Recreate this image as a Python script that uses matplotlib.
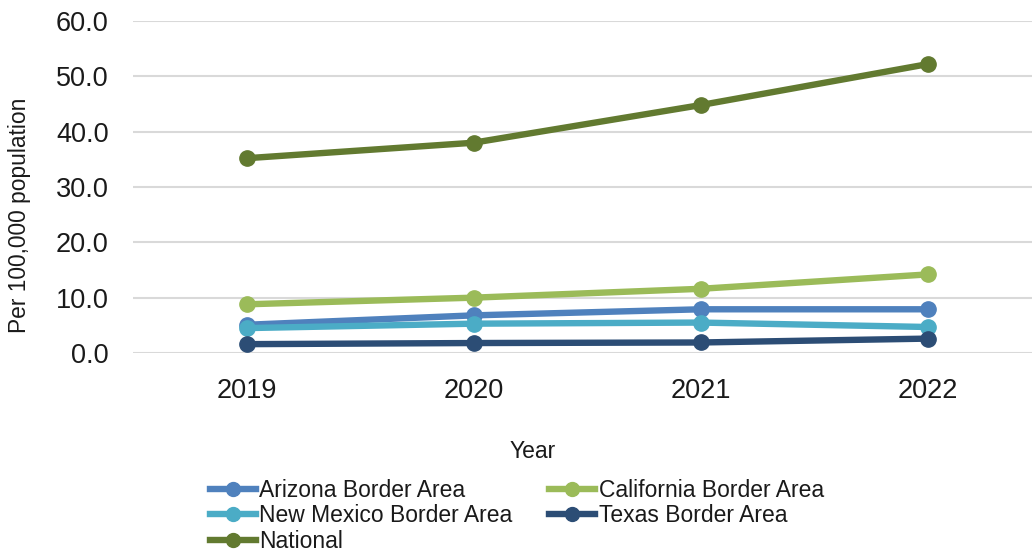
import matplotlib
matplotlib.use("Agg")
import matplotlib.pyplot as plt
from matplotlib.lines import Line2D

plt.rcParams['font.family'] = ['Liberation Sans', 'DejaVu Sans']

years = ["2019", "2020", "2021", "2022"]
arizona = [5.1, 6.8, 7.9, 7.9]
california = [8.8, 10.0, 11.6, 14.2]
new_mexico = [4.5, 5.3, 5.5, 4.7]
texas = [1.6, 1.8, 1.9, 2.6]
national = [35.2, 38.0, 44.8, 52.2]

series = [
    ("Arizona Border Area", arizona, "#4F81BD"),
    ("California Border Area", california, "#9BBB59"),
    ("New Mexico Border Area", new_mexico, "#4BACC6"),
    ("Texas Border Area", texas, "#2C4D75"),
    ("National", national, "#627A30"),
]

fig = plt.figure(figsize=(10.32, 5.52), dpi=100)
ax = fig.add_axes([133 / 1032, 1 - 353 / 552, 908 / 1032, 332 / 552])

x = list(range(len(years)))
handles = {}
for name, vals, color in series:
    (ln,) = ax.plot(x, vals, color=color, lw=4.6, marker="o", ms=11,
                    solid_capstyle="round", zorder=3, label=name)
    handles[name] = ln

ax.set_xlim(-0.5, 3.5)
ax.set_ylim(0, 60)
ax.set_yticks(range(0, 61, 10))
ax.set_yticklabels([f"{v:.1f}" for v in range(0, 61, 10)])
ax.set_xticks(x)
ax.set_xticklabels(years)
ax.tick_params(axis="both", length=0, labelsize=19.5, colors="#1a1a1a")
ax.tick_params(axis="y", pad=17.5)
ax.tick_params(axis="x", pad=18)
ax.grid(axis="y", color="#D9D9D9", lw=1.5, zorder=0)
for s in ax.spines.values():
    s.set_visible(False)

fig.text(20 / 1032, 1 - 215 / 552, "Per 100,000 population", fontsize=16.4,
         rotation=90, ha="center", va="center", color="#1a1a1a")
fig.text(533 / 1032, 1 - 452 / 552, "Year", fontsize=16.5,
         ha="center", va="center", color="#1a1a1a")

order = ["Arizona Border Area", "New Mexico Border Area", "National",
         "California Border Area", "Texas Border Area"]
leg_handles = [Line2D([0], [0], color=handles[n].get_color(), lw=4.6,
                      marker="o", ms=10) for n in order]
fig.legend(leg_handles, order, ncol=2, loc="center",
           bbox_to_anchor=(517 / 1032, 1 - 516 / 552), frameon=False,
           fontsize=16.5, handlelength=2.0, handletextpad=0.15,
           columnspacing=1.6, labelspacing=0.13, borderpad=0,
           labelcolor="#1a1a1a")

fig.savefig("out.png", dpi=100)
